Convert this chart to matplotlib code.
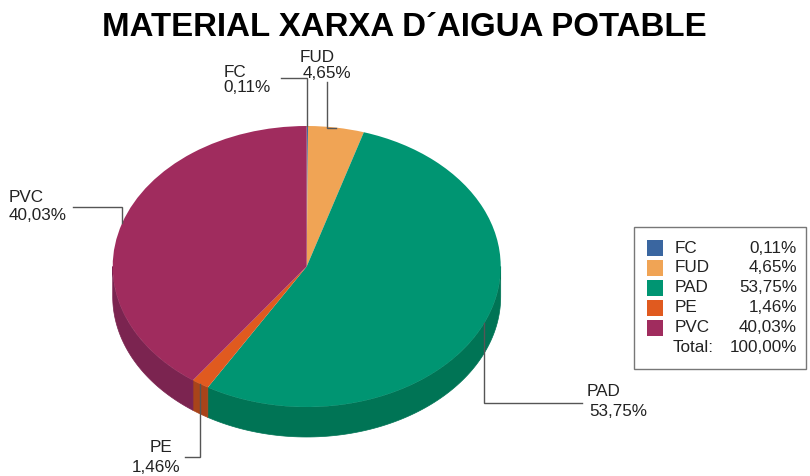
import matplotlib
matplotlib.use("Agg")
import matplotlib.pyplot as plt
import numpy as np
from matplotlib.patches import Polygon, Rectangle

# ---- data ----
categories = ['FC', 'FUD', 'PAD', 'PE', 'PVC']
values = [0.11, 4.65, 53.75, 1.46, 40.03]
total_label = 'Total:'
title = 'MATERIAL XARXA D\u00B4AIGUA POTABLE'

top_colors = ['#3a66a0', '#f0a455', '#009572', '#e05a1f', '#a02c5e']
side_colors = ['#2a4c78', '#b57a3e', '#007455', '#a8441a', '#7b2450']

W, H = 810, 476
fig = plt.figure(figsize=(W / 100, H / 100), dpi=100)
fig.patch.set_facecolor('white')

# pie geometry in pixels (ellipse)
cx, cy, rx, ry, depth = 306.7, 266.5, 194.0, 140.5, 30.0

ax = fig.add_axes([0, 0, 1, 1])
ax.axis('off')

def fmt(v):
    return f"{v:.2f}".replace('.', ',') + '%'

wedges, _ = ax.pie(values, colors=top_colors, startangle=90, counterclock=False,
                   radius=1, center=(0, 0), wedgeprops=dict(linewidth=0),
                   normalize=True)
for w in wedges:
    w.set_zorder(3)
ax.set_aspect('auto')
ax.set_xlim(-cx / rx, (W - cx) / rx)
ax.set_ylim(-(H - cy) / ry, cy / ry)

d = depth / ry
# side faces
for w, sc in zip(wedges, side_colors):
    t1, t2 = w.theta1, w.theta2
    for k in (-360, 0, 360):
        a = max(t1 + k, 180)
        b = min(t2 + k, 360)
        if b > a:
            t = np.radians(np.linspace(a, b, 100))
            xs = np.cos(t)
            ys = np.sin(t)
            pts = np.concatenate([np.column_stack([xs, ys]),
                                  np.column_stack([xs[::-1], ys[::-1] - d])])
            ax.add_patch(Polygon(pts, closed=True, facecolor=sc,
                                 edgecolor=sc, linewidth=0.5, zorder=2))

def px2d(x, y):
    return (x - cx) / rx, (cy - y) / ry

def fig_xy(x, y):
    return x / W, 1 - y / H

font = 'Liberation Sans'
lc = '#555555'
lw = 1.0

anchors = []
for w in wedges:
    m = np.radians((w.theta1 + w.theta2) / 2)
    anchors.append((np.cos(m), np.sin(m)))

def anchor_px(i):
    ax_, ay_ = anchors[i]
    return cx + ax_ * rx, cy - ay_ * ry

x0, y0 = anchor_px(0)
pts0 = [(x0, y0), (x0, 78), (281, 78)]
x1, y1 = anchor_px(1)
pts1 = [(x1, y1), (327, y1), (327, 82)]
x2, y2 = anchor_px(2)
pts2 = [(x2, y2), (x2, 403), (582, 403)]
x3, y3 = anchor_px(3)
pts3 = [(x3, y3), (x3, 457), (185, 457)]
x4, y4 = anchor_px(4)
pts4 = [(x4, y4), (x4, 207), (73, 207)]
for p in [pts0, pts1, pts2, pts3, pts4]:
    dd = [px2d(*q) for q in p]
    ax.plot([q[0] for q in dd], [q[1] for q in dd], color=lc, lw=lw, zorder=5,
            solid_joinstyle='miter')

fs = 12.3
label_pos = {
    0: ((224, 72.5), (223, 88), 'left'),
    1: ((300, 58), (303, 74), 'left'),
    2: ((587, 392), (589, 412), 'left'),
    3: ((172, 447), (180, 468), 'right'),
    4: ((9, 197.5), (9, 215), 'left'),
}
for i, ((nx, ny), (vx, vy), ha) in label_pos.items():
    fig.text(*fig_xy(nx, ny), categories[i], ha=ha, va='center', fontsize=fs,
             family=font, color='#222222')
    fig.text(*fig_xy(vx, vy), fmt(values[i]), ha=ha, va='center', fontsize=fs,
             family=font, color='#222222')

# legend
lx0, ly0, lx1, ly1 = 634, 227, 806, 369
fig.patches.append(Rectangle(fig_xy(lx0, ly1), (lx1 - lx0) / W, (ly1 - ly0) / H,
                             transform=fig.transFigure, facecolor='white',
                             edgecolor='#777777', linewidth=1.0))
row_y = [248, 268, 288, 308, 328]
for i, yy in enumerate(row_y):
    fig.patches.append(Rectangle(fig_xy(647, yy + 8), 16 / W, 16 / H,
                                 transform=fig.transFigure,
                                 facecolor=top_colors[i], edgecolor='none'))
    fig.text(*fig_xy(675, yy), categories[i], ha='left', va='center',
             fontsize=fs, family=font, color='#222222')
    fig.text(*fig_xy(797, yy), fmt(values[i]), ha='right', va='center',
             fontsize=fs, family=font, color='#222222')
fig.text(*fig_xy(714, 348), total_label, ha='right', va='center', fontsize=fs,
         family=font, color='#222222')
fig.text(*fig_xy(797, 348), fmt(sum(values)), ha='right', va='center',
         fontsize=fs, family=font, color='#222222')

# title
fig.text(*fig_xy(404, 28), title, ha='center', va='center', fontsize=23.8,
         fontweight='bold', family=['Liberation Sans Narrow', 'Liberation Sans'],
         color='black')

fig.savefig('out.png', dpi=100, facecolor='white')
